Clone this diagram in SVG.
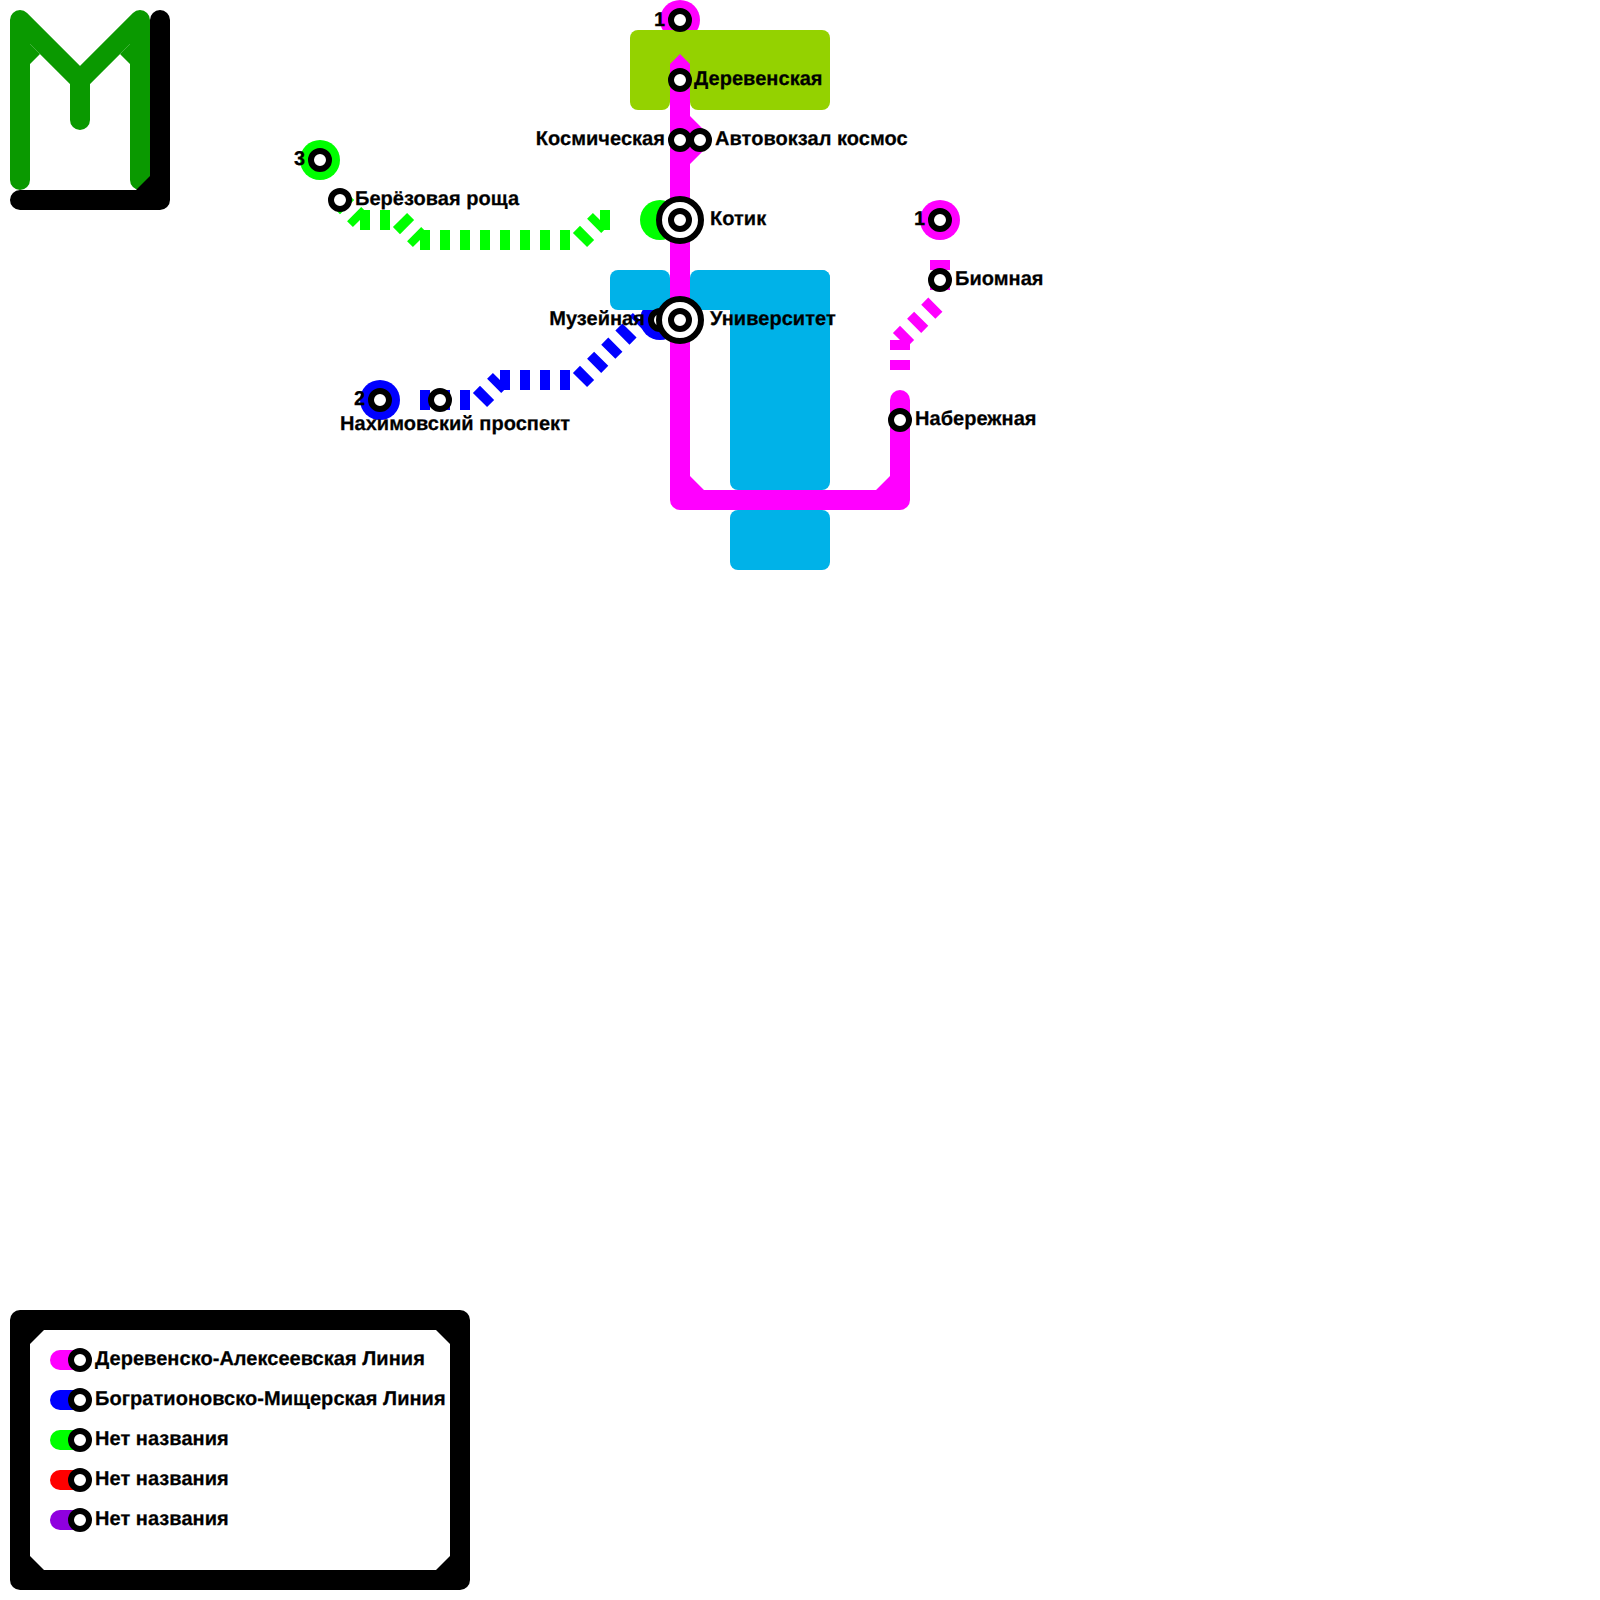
<svg xmlns="http://www.w3.org/2000/svg" width="1600" height="1600" viewBox="0 0 1600 1600">
<style>
.t{font-family:"Liberation Sans",Arial,sans-serif;font-weight:bold;font-size:20px;fill:#000;stroke:#000;stroke-width:.25;letter-spacing:.04px;text-rendering:geometricPrecision}
.e{text-anchor:end}
.st{fill:#fff;stroke:#000;stroke-width:6}
.bar{fill:none;stroke-width:20;stroke-linecap:butt;stroke-dasharray:10 10}
.solid{fill:none;stroke-width:20;stroke-linecap:round;stroke-linejoin:round}
.mg{stroke:#ff00ff}.gr{stroke:#00ff00}.bl{stroke:#0000ff}
.water{fill:#00b2e8}.park{fill:#94d200}
</style>
<rect width="1600" height="1600" fill="#fff"/>
<g id="logo">
<path class="solid" stroke="#0a9900" d="M20,180V20L80,80L140,20V180M80,80V120"/>
<path fill="#0a9900" d="M30,44V64L40,54ZM130,44V64L120,54Z"/>
<path class="solid" stroke="#000" d="M160,20V200H20"/>
<path fill="#000" d="M150,176V190H136Z"/>
</g>
<g id="badges">
<circle cx="680" cy="20" r="20" fill="#ff00ff"/>
<circle cx="940" cy="220" r="20" fill="#ff00ff"/>
<circle cx="320" cy="160" r="20" fill="#00ff00"/>
<circle cx="660" cy="220" r="20" fill="#00ff00"/>
<circle cx="380" cy="400" r="20" fill="#0000ff"/>
<circle cx="660" cy="320" r="20" fill="#0000ff"/>
</g>
<g id="terrain">
<rect class="park" x="630" y="30" width="40" height="80" rx="8"/>
<rect class="park" x="690" y="30" width="140" height="80" rx="8"/>
<rect class="park" x="660" y="30" width="40" height="40"/>
<rect class="water" x="610" y="270" width="60" height="40" rx="8"/>
<rect class="water" x="690" y="270" width="140" height="40" rx="8"/>
<rect class="water" x="730" y="270" width="100" height="220" rx="8"/>
<rect class="water" x="730" y="510" width="100" height="60" rx="8"/>
</g>
<g id="connectors">
<path class="bar gr" d="M340,200L360,220M360,220H400M400,220L420,240M420,240H580M580,240L600,220M600,220H610"/>
<path class="bar bl" d="M420,400H480M480,400L500,380M500,380H580M580,380L640,320"/>
<path class="bar mg" d="M940,260V300M900,340L940,300M900,340V380"/>
<path fill="none" stroke="#ff00ff" stroke-width="20" stroke-linejoin="round" d="M680,64V500H900V400"/>
<circle cx="900" cy="400" r="10" fill="#ff00ff"/>
<path fill="#ff00ff" d="M670,64L680,54L690,64ZM690,476V490H704ZM890,476V490H876ZM690,116L703.5,129.5V150.5L690,164Z"/>
</g>
<g id="st-top1"><circle class="st" cx="680" cy="20" r="9"/><text class="t" x="654" y="26">1</text></g>
<g id="st-derevenskaya"><circle class="st" cx="680" cy="80" r="9"/><text class="t" x="694" y="85">Деревенская</text></g>
<g id="st-kosmicheskaya"><circle class="st" cx="680" cy="140" r="9"/><text class="t e" x="665" y="145">Космическая</text></g>
<g id="st-avtovokzal"><circle class="st" cx="700" cy="140" r="9"/><text class="t" x="715" y="145">Автовокзал космос</text></g>
<g id="st-kotik"><circle class="st" cx="680" cy="220" r="21"/><circle class="st" cx="680" cy="220" r="9"/><text class="t" x="710" y="225">Котик</text></g>
<g id="st-muzeynaya"><circle class="st" cx="660" cy="320" r="9"/><text class="t e" x="645" y="325">Музейная</text></g>
<g id="st-universitet"><circle class="st" cx="680" cy="320" r="21"/><circle class="st" cx="680" cy="320" r="9"/><text class="t" x="710" y="325">Университет</text></g>
<g id="st-three"><circle class="st" cx="320" cy="160" r="9"/><text class="t" x="294" y="165">3</text></g>
<g id="st-beryozovaya"><circle class="st" cx="340" cy="200" r="9"/><text class="t" x="355" y="205">Берёзовая роща</text></g>
<g id="st-two"><circle class="st" cx="380" cy="400" r="9"/><text class="t" x="354" y="405">2</text></g>
<g id="st-nakhimovsky"><circle class="st" cx="440" cy="400" r="9"/><text class="t" x="340" y="430">Нахимовский проспект</text></g>
<g id="st-one-right"><circle class="st" cx="940" cy="220" r="9"/><text class="t" x="914" y="225">1</text></g>
<g id="st-biomnaya"><circle class="st" cx="940" cy="280" r="9"/><text class="t" x="955" y="285">Биомная</text></g>
<g id="st-naberezhnaya"><circle class="st" cx="900" cy="420" r="9"/><text class="t" x="915" y="425">Набережная</text></g>
<g id="legend">
<rect x="10" y="1310" width="460" height="280" rx="10" fill="#000"/>
<path fill="#fff" d="M44,1330H436L450,1344V1556L436,1570H44L30,1556V1344Z"/>
<path class="solid" stroke="#ff00ff" d="M60,1360H80"/><circle class="st" cx="80" cy="1360" r="9"/><text class="t" x="95" y="1365">Деревенско-Алексеевская Линия</text>
<path class="solid" stroke="#0000ff" d="M60,1400H80"/><circle class="st" cx="80" cy="1400" r="9"/><text class="t" x="95" y="1405">Богратионовско-Мищерская Линия</text>
<path class="solid" stroke="#00ff00" d="M60,1440H80"/><circle class="st" cx="80" cy="1440" r="9"/><text class="t" x="95" y="1445">Нет названия</text>
<path class="solid" stroke="#ff0000" d="M60,1480H80"/><circle class="st" cx="80" cy="1480" r="9"/><text class="t" x="95" y="1485">Нет названия</text>
<path class="solid" stroke="#8f00df" d="M60,1520H80"/><circle class="st" cx="80" cy="1520" r="9"/><text class="t" x="95" y="1525">Нет названия</text>
</g>
</svg>
